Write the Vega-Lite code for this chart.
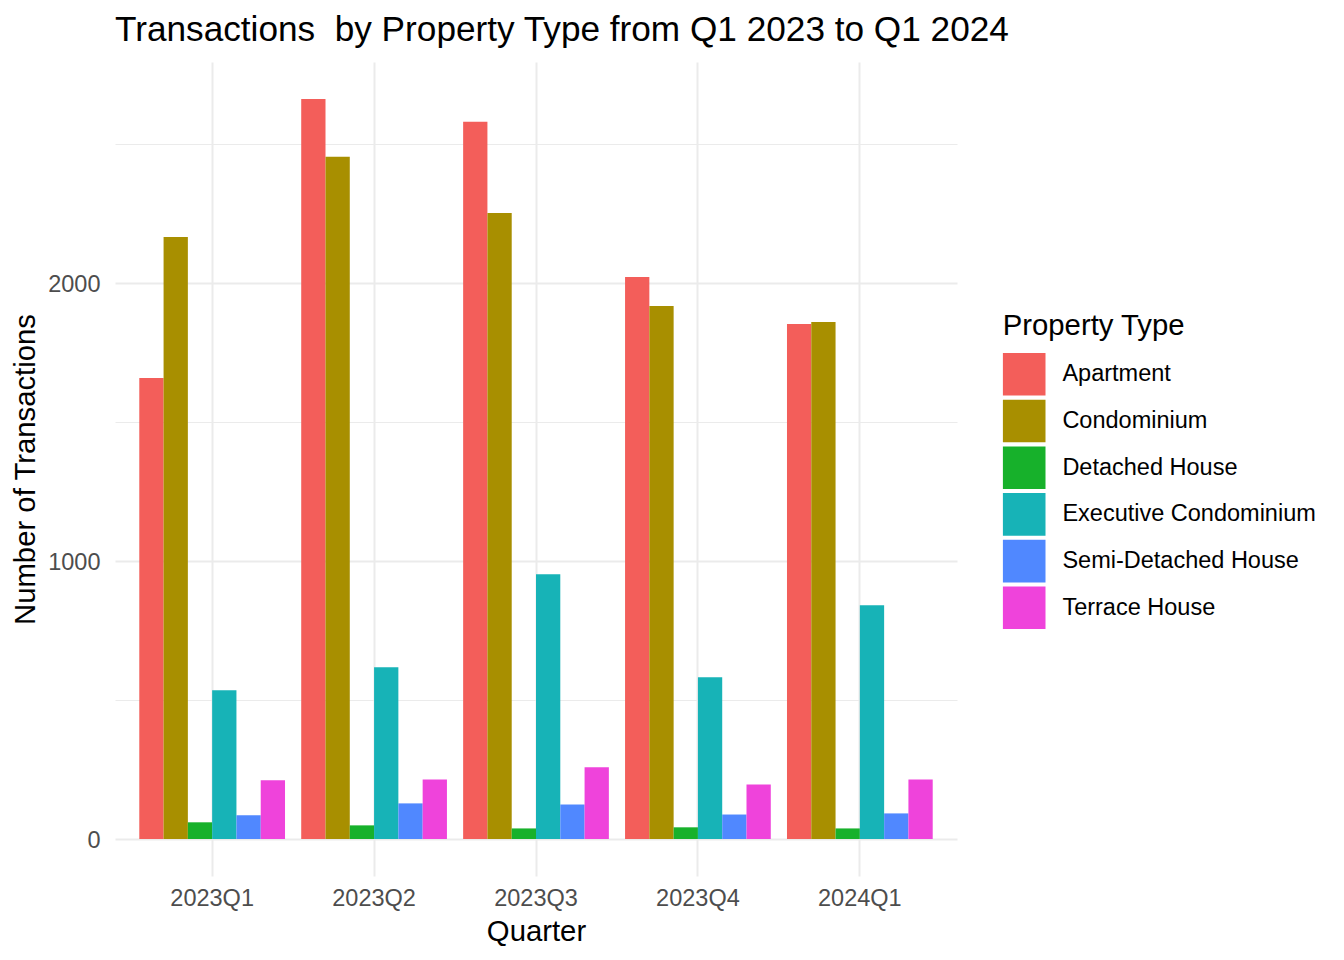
{
  "$schema": "https://vega.github.io/schema/vega-lite/v6.json",
  "width": 842,
  "height": 814,
  "autosize": {"type": "none"},
  "padding": {"left": 115, "top": 62, "right": 387, "bottom": 84},
  "background": "white",
  "title": {
    "text": "Transactions \u00a0by Property Type from Q1 2023 to Q1 2024",
    "anchor": "start",
    "frame": "group",
    "font": "Liberation Sans",
    "fontSize": 35.2,
    "fontWeight": "normal",
    "color": "black",
    "baseline": "alphabetic",
    "offset": -14
  },
  "data": {
    "values": [
      {"quarter": "2023Q1", "type": "Apartment", "n": 1657},
      {"quarter": "2023Q1", "type": "Condominium", "n": 2164},
      {"quarter": "2023Q1", "type": "Detached House", "n": 60},
      {"quarter": "2023Q1", "type": "Executive Condominium", "n": 535},
      {"quarter": "2023Q1", "type": "Semi-Detached House", "n": 85},
      {"quarter": "2023Q1", "type": "Terrace House", "n": 211},
      {"quarter": "2023Q2", "type": "Apartment", "n": 2660},
      {"quarter": "2023Q2", "type": "Condominium", "n": 2452},
      {"quarter": "2023Q2", "type": "Detached House", "n": 49},
      {"quarter": "2023Q2", "type": "Executive Condominium", "n": 617},
      {"quarter": "2023Q2", "type": "Semi-Detached House", "n": 128},
      {"quarter": "2023Q2", "type": "Terrace House", "n": 214},
      {"quarter": "2023Q3", "type": "Apartment", "n": 2578},
      {"quarter": "2023Q3", "type": "Condominium", "n": 2250},
      {"quarter": "2023Q3", "type": "Detached House", "n": 38},
      {"quarter": "2023Q3", "type": "Executive Condominium", "n": 952},
      {"quarter": "2023Q3", "type": "Semi-Detached House", "n": 124},
      {"quarter": "2023Q3", "type": "Terrace House", "n": 258},
      {"quarter": "2023Q4", "type": "Apartment", "n": 2020},
      {"quarter": "2023Q4", "type": "Condominium", "n": 1916},
      {"quarter": "2023Q4", "type": "Detached House", "n": 42},
      {"quarter": "2023Q4", "type": "Executive Condominium", "n": 581},
      {"quarter": "2023Q4", "type": "Semi-Detached House", "n": 88},
      {"quarter": "2023Q4", "type": "Terrace House", "n": 196},
      {"quarter": "2024Q1", "type": "Apartment", "n": 1851},
      {"quarter": "2024Q1", "type": "Condominium", "n": 1858},
      {"quarter": "2024Q1", "type": "Detached House", "n": 38},
      {"quarter": "2024Q1", "type": "Executive Condominium", "n": 840},
      {"quarter": "2024Q1", "type": "Semi-Detached House", "n": 92},
      {"quarter": "2024Q1", "type": "Terrace House", "n": 214}
    ]
  },
  "mark": {"type": "bar"},
  "encoding": {
    "x": {
      "field": "quarter",
      "type": "nominal",
      "title": "Quarter",
      "scale": {"paddingInner": 0.1, "paddingOuter": 0.15},
      "axis": {
        "bandPosition": 0.5,
        "grid": true,
        "gridColor": "#EBEBEB",
        "gridWidth": 2,
        "ticks": false,
        "tickSize": 0,
        "domain": false,
        "labelAngle": 0,
        "labelPadding": 10,
        "labelFont": "Liberation Sans",
        "labelFontSize": 23.5,
        "labelColor": "#4D4D4D",
        "titleFont": "Liberation Sans",
        "titleFontSize": 29.3,
        "titleFontWeight": "normal",
        "titleColor": "black",
        "titlePadding": 8
      }
    },
    "xOffset": {
      "field": "type",
      "type": "nominal",
      "scale": {"paddingInner": 0, "paddingOuter": 0}
    },
    "y": {
      "field": "n",
      "type": "quantitative",
      "title": "Number of Transactions",
      "scale": {"domain": [-133, 2793], "nice": false, "zero": false},
      "axis": {
        "values": [0, 500, 1000, 1500, 2000, 2500],
        "format": "d",
        "labelExpr": "datum.value % 1000 === 0 ? datum.label : ''",
        "labelOverlap": false,
        "ticks": false,
        "tickSize": 0,
        "domain": false,
        "labelPadding": 15,
        "labelOffset": 1.5,
        "labelFont": "Liberation Sans",
        "labelFontSize": 23.5,
        "labelColor": "#4D4D4D",
        "titleFont": "Liberation Sans",
        "titleFontSize": 29.3,
        "titleFontWeight": "normal",
        "titleColor": "black",
        "titlePadding": 7,
        "gridColor": "#EBEBEB",
        "gridWidth": {"condition": {"test": "datum.value % 1000 === 0", "value": 2}, "value": 1}
      }
    },
    "color": {
      "field": "type",
      "type": "nominal",
      "scale": {
        "domain": ["Apartment", "Condominium", "Detached House", "Executive Condominium", "Semi-Detached House", "Terrace House"],
        "range": ["#F35E5A", "#A88F00", "#17B12B", "#17B3B7", "#5088FF", "#EF43DB"]
      },
      "legend": {
        "orient": "none",
        "legendX": 887.7,
        "legendY": 250,
        "title": "Property Type",
        "titleFont": "Liberation Sans",
        "titleFontSize": 29.3,
        "titleFontWeight": "normal",
        "titleColor": "black",
        "titlePadding": 11.5,
        "titleLimit": 400,
        "labelFont": "Liberation Sans",
        "labelFontSize": 23.5,
        "labelColor": "black",
        "labelOffset": 16.7,
        "labelLimit": 400,
        "symbolType": "square",
        "symbolSize": 1815,
        "symbolStrokeWidth": 0,
        "symbolOpacity": 1,
        "rowPadding": 3.7
      }
    }
  },
  "config": {"view": {"stroke": null}, "font": "Liberation Sans"}
}
